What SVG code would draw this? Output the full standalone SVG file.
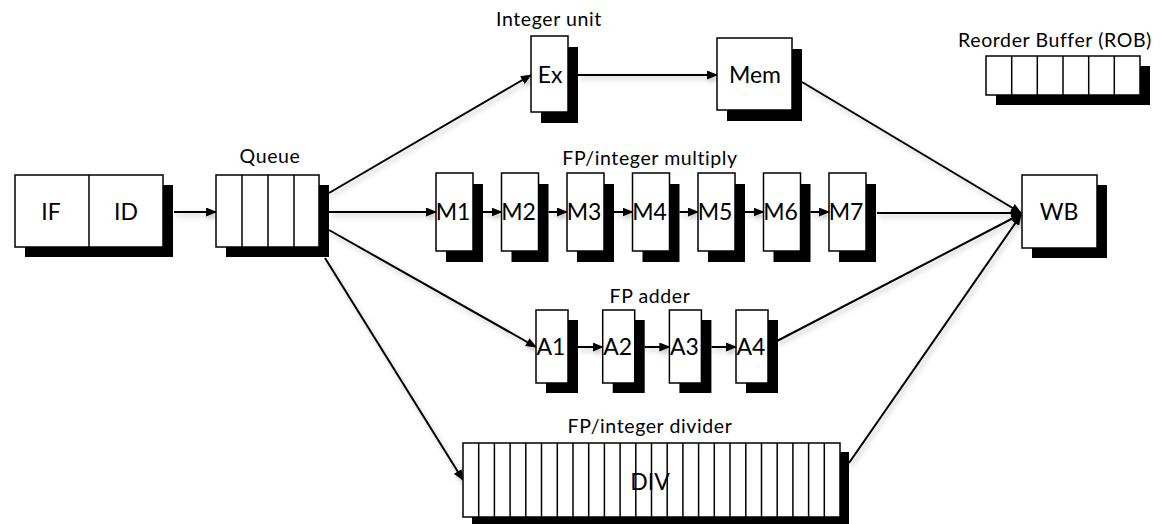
<svg xmlns="http://www.w3.org/2000/svg" width="1163" height="524" viewBox="0 0 1163 524">
<defs>
<style>
.sh{fill:#000}
.bx{fill:#fff;stroke:#000;stroke-width:1.5}
.dv{stroke:#000;stroke-width:1.5}
.t{font-family:Lato,"Noto Sans",sans-serif;font-size:23px;fill:#000;text-anchor:middle}
.l{font-family:Lato,"Noto Sans",sans-serif;font-size:19.5px;letter-spacing:0.6px;fill:#000;text-anchor:middle}
.c{stroke:#000;stroke-width:2;fill:none;marker-end:url(#ah)}
</style>
<marker id="ah" markerUnits="userSpaceOnUse" markerWidth="11" markerHeight="9" refX="10" refY="4.5" orient="auto">
<path d="M0,0 L11,4.5 L0,9 z" fill="#000"/>
</marker>
<filter id="soft" x="-10%" y="-10%" width="120%" height="140%">
<feDropShadow dx="2" dy="3" stdDeviation="2.5" flood-color="#000" flood-opacity="0.25"/>
</filter>
</defs>
<rect width="1163" height="524" fill="#fff"/>

<g id="connectors" filter="url(#soft)">
<line class="c" x1="174" y1="212" x2="216" y2="212"/>
<line class="c" x1="329" y1="193" x2="531" y2="75"/>
<line class="c" x1="329" y1="212" x2="436" y2="212"/>
<line class="c" x1="329" y1="230" x2="536" y2="347"/>
<line class="c" x1="325" y1="258" x2="463" y2="480"/>
<line class="c" x1="578" y1="75" x2="717" y2="75"/>
<line class="c" x1="483" y1="212" x2="501.5" y2="212"/>
<line class="c" x1="548.5" y1="212" x2="567" y2="212"/>
<line class="c" x1="614" y1="212" x2="632.5" y2="212"/>
<line class="c" x1="679.5" y1="212" x2="698" y2="212"/>
<line class="c" x1="745" y1="212" x2="763.5" y2="212"/>
<line class="c" x1="810.5" y1="212" x2="829" y2="212"/>
<line class="c" x1="578" y1="347" x2="602.7" y2="347"/>
<line class="c" x1="644.7" y1="347" x2="669.4" y2="347"/>
<line class="c" x1="711.4" y1="347" x2="736" y2="347"/>
<line class="c" x1="802" y1="82" x2="1021" y2="213"/>
<line class="c" x1="877" y1="213" x2="1021" y2="213"/>
<line class="c" x1="777" y1="341" x2="1021" y2="214"/>
<line class="c" x1="849" y1="463" x2="1021" y2="215"/>
</g>

<g id="ifid">
<rect class="sh" x="25" y="185" width="148" height="72"/>
<rect class="bx" x="15" y="175" width="148" height="72"/>
<line class="dv" x1="89" y1="175" x2="89" y2="247"/>
<text class="t" x="51" y="220">IF</text>
<text class="t" x="126" y="220">ID</text>
</g>

<g id="queue">
<rect class="sh" x="226" y="185" width="103" height="72"/>
<rect class="bx" x="216" y="175" width="103" height="72"/>
<line class="dv" x1="242" y1="175" x2="242" y2="247"/>
<line class="dv" x1="268" y1="175" x2="268" y2="247"/>
<line class="dv" x1="294" y1="175" x2="294" y2="247"/>
<text class="l" x="270" y="163">Queue</text>
</g>

<g id="ex">
<rect class="sh" x="541" y="47" width="37" height="76"/>
<rect class="bx" x="531" y="36" width="37" height="76"/>
<text class="t" x="550" y="83">Ex</text>
<text class="l" x="549" y="26">Integer unit</text>
</g>

<g id="mem">
<rect class="sh" x="727" y="49" width="75" height="72"/>
<rect class="bx" x="717" y="38" width="75" height="72"/>
<text class="t" x="755" y="83">Mem</text>
</g>

<text class="l" x="650" y="165">FP/integer multiply</text>
<g id="m1"><rect class="sh" x="446" y="184" width="37" height="78"/><rect class="bx" x="436" y="173" width="37" height="78"/><text class="t" x="453" y="220">M1</text></g>
<g id="m2"><rect class="sh" x="511.5" y="184" width="37" height="78"/><rect class="bx" x="501.5" y="173" width="37" height="78"/><text class="t" x="518.5" y="220">M2</text></g>
<g id="m3"><rect class="sh" x="577" y="184" width="37" height="78"/><rect class="bx" x="567" y="173" width="37" height="78"/><text class="t" x="584" y="220">M3</text></g>
<g id="m4"><rect class="sh" x="642.5" y="184" width="37" height="78"/><rect class="bx" x="632.5" y="173" width="37" height="78"/><text class="t" x="649.5" y="220">M4</text></g>
<g id="m5"><rect class="sh" x="708" y="184" width="37" height="78"/><rect class="bx" x="698" y="173" width="37" height="78"/><text class="t" x="715" y="220">M5</text></g>
<g id="m6"><rect class="sh" x="773.5" y="184" width="37" height="78"/><rect class="bx" x="763.5" y="173" width="37" height="78"/><text class="t" x="780.5" y="220">M6</text></g>
<g id="m7"><rect class="sh" x="839" y="184" width="37" height="78"/><rect class="bx" x="829" y="173" width="37" height="78"/><text class="t" x="846" y="220">M7</text></g>

<text class="l" x="650" y="303">FP adder</text>
<g id="a1"><rect class="sh" x="546" y="320" width="32" height="73"/><rect class="bx" x="536" y="310" width="32" height="73"/><text class="t" x="551" y="355">A1</text></g>
<g id="a2"><rect class="sh" x="612.7" y="320" width="32" height="73"/><rect class="bx" x="602.7" y="310" width="32" height="73"/><text class="t" x="617.7" y="355">A2</text></g>
<g id="a3"><rect class="sh" x="679.4" y="320" width="32" height="73"/><rect class="bx" x="669.4" y="310" width="32" height="73"/><text class="t" x="684.4" y="355">A3</text></g>
<g id="a4"><rect class="sh" x="746" y="320" width="32" height="73"/><rect class="bx" x="736" y="310" width="32" height="73"/><text class="t" x="751" y="355">A4</text></g>

<g id="div">
<text class="l" x="650" y="433">FP/integer divider</text>
<rect class="sh" x="472" y="452" width="377" height="74"/>
<rect class="bx" x="463" y="443" width="377" height="74"/>
<path class="dv" d="M478.7,443V517M494.4,443V517M510.1,443V517M525.8,443V517M541.5,443V517M557.3,443V517M573,443V517M588.7,443V517M604.4,443V517M620.1,443V517M635.8,443V517M651.5,443V517M667.2,443V517M682.9,443V517M698.6,443V517M714.3,443V517M730,443V517M745.8,443V517M761.5,443V517M777.2,443V517M792.9,443V517M808.6,443V517M824.3,443V517"/>
<text class="t" x="650" y="490">DIV</text>
</g>

<g id="wb">
<rect class="sh" x="1032" y="185" width="75" height="73"/>
<rect class="bx" x="1022" y="175" width="75" height="73"/>
<text class="t" x="1059" y="220">WB</text>
</g>

<g id="rob">
<text class="l" x="1055" y="47">Reorder Buffer (ROB)</text>
<rect class="sh" x="996" y="66" width="154" height="39"/>
<rect class="bx" x="986" y="56" width="154" height="39"/>
<path class="dv" d="M1011.7,56V95M1037.3,56V95M1063,56V95M1088.7,56V95M1114.3,56V95"/>
</g>
</svg>
